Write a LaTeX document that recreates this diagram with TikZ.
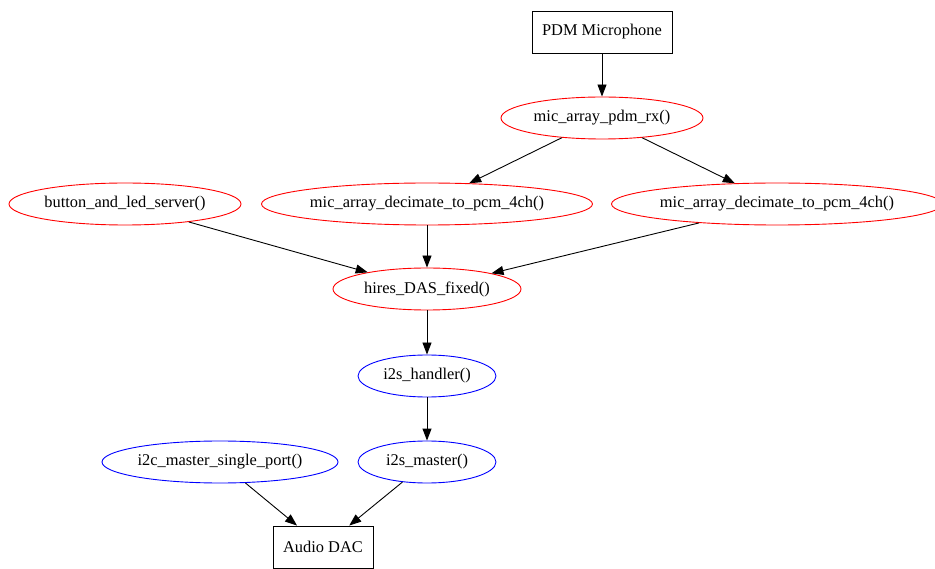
\documentclass[tikz,border=0pt]{standalone}
\usepackage{fontspec}
\setmainfont{Liberation Serif}
\usetikzlibrary{shapes.geometric,arrows.meta}
\begin{document}
\begin{tikzpicture}[x=1pt,y=-1pt,
  every node/.style={font=\fontsize{16.4}{18}\selectfont, inner sep=0pt},
  boxnode/.style={draw, line width=0.9pt, rectangle, minimum height=42pt},
  rednode/.style={draw=red, line width=0.9pt, ellipse, minimum height=42pt},
  bluenode/.style={draw=blue, line width=0.9pt, ellipse, minimum height=42pt},
  edge/.style={draw, line width=0.9pt, -{Triangle[length=12pt,width=9pt]}}]
\useasboundingbox (0,0) rectangle (935,569);
\node[boxnode, minimum width=140pt] (pdm) at (602,32) {PDM Microphone};
\node[rednode, minimum width=202pt] (rx) at (602,118) {mic\_array\_pdm\_rx()};
\node[rednode, minimum width=232pt] (btn) at (125,204) {button\_and\_led\_server()};
\node[rednode, minimum width=328pt] (decl) at (427,204) {mic\_array\_decimate\_to\_pcm\_4ch()};
\node[rednode, minimum width=328pt] (decr) at (777,204) {mic\_array\_decimate\_to\_pcm\_4ch()};
\node[rednode, minimum width=188pt] (das) at (427,289) {hires\_DAS\_fixed()};
\node[bluenode, minimum width=138pt] (hand) at (427,376) {i2s\_handler()};
\node[bluenode, minimum width=236pt] (i2c) at (220,462) {i2c\_master\_single\_port()};
\node[bluenode, minimum width=138pt] (i2s) at (427,462) {i2s\_master()};
\node[boxnode, minimum width=100pt] (dac) at (323,547) {Audio DAC};
\draw[edge] (pdm) -- (rx);
\draw[edge] (rx) -- (decl);
\draw[edge] (rx) -- (decr);
\draw[edge] (btn) -- (das);
\draw[edge] (decl) -- (das);
\draw[edge] (decr) -- (das);
\draw[edge] (das) -- (hand);
\draw[edge] (hand) -- (i2s);
\draw[edge] (i2c) -- (dac);
\draw[edge] (i2s) -- (dac);
\end{tikzpicture}
\end{document}
